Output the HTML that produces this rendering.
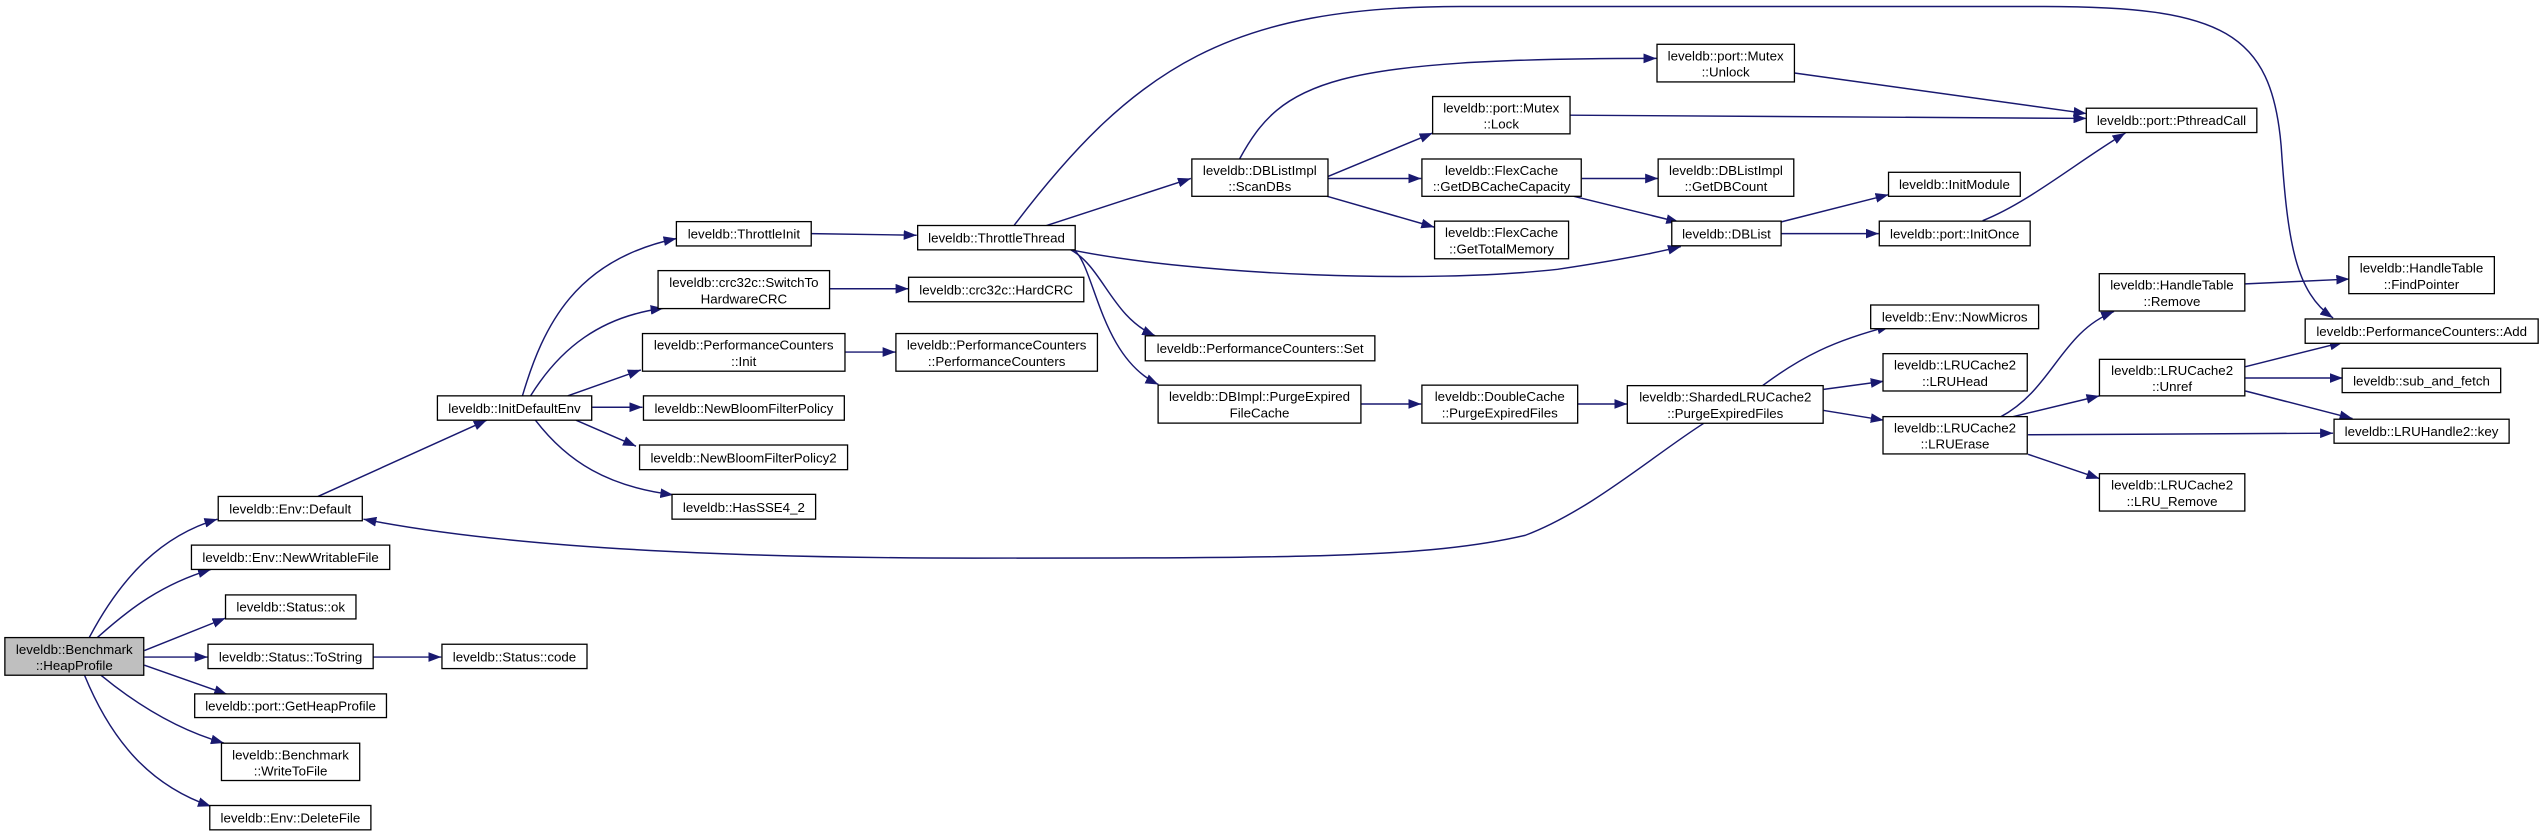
<!DOCTYPE html>
<html><head><meta charset="utf-8"><style>
html,body{margin:0;padding:0;background:#fff}
svg{display:block}
text{font-family:"Liberation Sans",sans-serif;font-size:8.2px;fill:#000}
</style></head><body>
<svg width="2544" height="836" viewBox="0 0 1568 515.3" preserveAspectRatio="none" xmlns="http://www.w3.org/2000/svg">
<defs><marker id="a" markerUnits="userSpaceOnUse" markerWidth="8" markerHeight="6" refX="8" refY="3" orient="auto"><path d="M0,0 L8,3 L0,6 z" fill="#191970"/></marker></defs>
<g fill="none" stroke="#191970" stroke-width="0.9" marker-end="url(#a)">
<path d="M55,393 C75,355 100,330 134,320"/>
<path d="M60,393 C80,375 100,360 130,351"/>
<path d="M89,401 L139,381"/>
<path d="M89,405 L128,405"/>
<path d="M89,410 L140,428"/>
<path d="M62,416 C85,435 110,450 138,458"/>
<path d="M52,416 C70,460 95,485 130,497"/>
<path d="M230,405 L272,405"/>
<path d="M196,306 L300,259"/>
<path d="M1050,261 C1020,280 980,315 940,330 C880,344 800,344 600,344 C420,344 300,335 224,320"/>
<path d="M322,244 C335,200 355,160 417,147"/>
<path d="M327,244 C345,215 370,195 409,190"/>
<path d="M350,244 L395,228"/>
<path d="M365,251 L396,251"/>
<path d="M355,259 L392,275"/>
<path d="M330,259 C350,285 375,300 415,305"/>
<path d="M500,144 L565,145"/>
<path d="M511,178 L560,178"/>
<path d="M521,217 L552,217"/>
<path d="M645,139 L734,110"/>
<path d="M660,154 C740,170 880,175 960,166 C1000,160 1020,156 1036,152"/>
<path d="M625,139 C700,40 760,4 900,4 L1260,4 C1370,4 1400,20 1406,90 C1410,150 1415,180 1438,196"/>
<path d="M660,154 C680,165 685,195 712,207"/>
<path d="M662,154 C675,165 678,220 714,237"/>
<path d="M764,98 C790,50 820,36 1021,36"/>
<path d="M818,109 L883,82"/>
<path d="M818,110 L876,110"/>
<path d="M818,121 L884,140"/>
<path d="M1106,45 L1286,70"/>
<path d="M968,71 L1286,73"/>
<path d="M975,110 L1022,110"/>
<path d="M970,121 L1035,137"/>
<path d="M1097,137 L1164,120"/>
<path d="M1098,144 L1158,144"/>
<path d="M1222,136 C1250,125 1280,100 1310,82"/>
<path d="M839,249 L876,249"/>
<path d="M972,249 L1003,249"/>
<path d="M1086,238 C1110,220 1130,210 1165,201"/>
<path d="M1124,240 L1161,235"/>
<path d="M1124,253 L1161,259"/>
<path d="M1233,257 C1265,240 1270,205 1303,192"/>
<path d="M1240,257 L1294,244"/>
<path d="M1250,268 L1438,267"/>
<path d="M1250,280 L1294,295"/>
<path d="M1384,175 L1448,172"/>
<path d="M1384,226 L1444,211"/>
<path d="M1384,233 L1444,233"/>
<path d="M1384,241 L1450,258"/>
</g>
<g fill="#fff" stroke="#000" stroke-width="0.8">
<rect x="3" y="393" width="85.6" height="23.2" fill="#bfbfbf"/>
<rect x="134.5" y="306" width="88.8" height="15"/>
<rect x="118" y="336" width="122.2" height="15"/>
<rect x="139" y="366.7" width="80.4" height="14.8"/>
<rect x="128.2" y="397.1" width="101.8" height="15"/>
<rect x="272.4" y="397.1" width="89.4" height="15"/>
<rect x="120" y="427.7" width="118.2" height="14.6"/>
<rect x="136.5" y="458.1" width="85.2" height="23"/>
<rect x="129.3" y="496.5" width="99.3" height="15"/>
<rect x="269.6" y="244" width="95.1" height="15"/>
<rect x="416.9" y="136.6" width="83.1" height="15"/>
<rect x="405.6" y="166.8" width="105.7" height="23.4"/>
<rect x="396" y="205.6" width="124.8" height="23.2"/>
<rect x="396.6" y="244" width="123.8" height="15"/>
<rect x="394.2" y="274.3" width="128.2" height="15.2"/>
<rect x="414.2" y="304.7" width="88.5" height="15.3"/>
<rect x="560" y="170.9" width="108" height="15.1"/>
<rect x="552.2" y="205.6" width="124.2" height="23.2"/>
<rect x="565.6" y="139" width="97.1" height="15"/>
<rect x="705.9" y="207" width="141.5" height="15.4"/>
<rect x="713.8" y="237.4" width="125" height="23.4"/>
<rect x="876.4" y="237.4" width="96" height="23.4"/>
<rect x="1003" y="237.7" width="120.7" height="23.2"/>
<rect x="734.6" y="98" width="83.9" height="23"/>
<rect x="883" y="59.5" width="84.7" height="23"/>
<rect x="1021.3" y="27.3" width="84.7" height="23.2"/>
<rect x="876.4" y="98" width="98.2" height="23"/>
<rect x="884.2" y="136.3" width="82.6" height="23.2"/>
<rect x="1022" y="98" width="83.6" height="23"/>
<rect x="1030.4" y="136.3" width="67.4" height="15.2"/>
<rect x="1164" y="106.2" width="81.2" height="14.8"/>
<rect x="1158.3" y="136.3" width="93" height="15.2"/>
<rect x="1285.9" y="66.7" width="105.1" height="15"/>
<rect x="1153" y="188" width="103.5" height="14.6"/>
<rect x="1160.6" y="218" width="88.9" height="23"/>
<rect x="1160.6" y="256.8" width="88.9" height="23"/>
<rect x="1293.9" y="168.7" width="89.7" height="23"/>
<rect x="1294" y="221.5" width="89.6" height="22.5"/>
<rect x="1294" y="292" width="89.6" height="23"/>
<rect x="1447.7" y="158.2" width="89.7" height="22.8"/>
<rect x="1420.8" y="196.6" width="143.6" height="15"/>
<rect x="1443.6" y="227" width="97.7" height="15"/>
<rect x="1438.6" y="258.4" width="107.9" height="14.8"/>
</g>
<g text-anchor="middle">
<text x="45.8" y="403">leveldb::Benchmark</text><text x="45.8" y="413">::HeapProfile</text>
<text x="178.9" y="316.5">leveldb::Env::Default</text>
<text x="179.1" y="346.5">leveldb::Env::NewWritableFile</text>
<text x="179.2" y="377">leveldb::Status::ok</text>
<text x="179.1" y="407.6">leveldb::Status::ToString</text>
<text x="317.1" y="407.6">leveldb::Status::code</text>
<text x="179.1" y="438">leveldb::port::GetHeapProfile</text>
<text x="179.1" y="468">leveldb::Benchmark</text><text x="179.1" y="478">::WriteToFile</text>
<text x="179" y="507">leveldb::Env::DeleteFile</text>
<text x="317.1" y="254.5">leveldb::InitDefaultEnv</text>
<text x="458.5" y="147">leveldb::ThrottleInit</text>
<text x="458.5" y="177">leveldb::crc32c::SwitchTo</text><text x="458.5" y="187">HardwareCRC</text>
<text x="458.4" y="215.5">leveldb::PerformanceCounters</text><text x="458.4" y="225.5">::Init</text>
<text x="458.5" y="254.5">leveldb::NewBloomFilterPolicy</text>
<text x="458.3" y="285">leveldb::NewBloomFilterPolicy2</text>
<text x="458.5" y="315.5">leveldb::HasSSE4_2</text>
<text x="614" y="181.5">leveldb::crc32c::HardCRC</text>
<text x="614.3" y="215.5">leveldb::PerformanceCounters</text><text x="614.3" y="225.5">::PerformanceCounters</text>
<text x="614.2" y="149.5">leveldb::ThrottleThread</text>
<text x="776.7" y="217.7">leveldb::PerformanceCounters::Set</text>
<text x="776.3" y="247.3">leveldb::DBImpl::PurgeExpired</text><text x="776.3" y="257.3">FileCache</text>
<text x="924.4" y="247.3">leveldb::DoubleCache</text><text x="924.4" y="257.3">::PurgeExpiredFiles</text>
<text x="1063.4" y="247.6">leveldb::ShardedLRUCache2</text><text x="1063.4" y="257.6">::PurgeExpiredFiles</text>
<text x="776.5" y="107.8">leveldb::DBListImpl</text><text x="776.5" y="117.8">::ScanDBs</text>
<text x="925.3" y="69.3">leveldb::port::Mutex</text><text x="925.3" y="79.3">::Lock</text>
<text x="1063.6" y="37.2">leveldb::port::Mutex</text><text x="1063.6" y="47.2">::Unlock</text>
<text x="925.5" y="107.8">leveldb::FlexCache</text><text x="925.5" y="117.8">::GetDBCacheCapacity</text>
<text x="925.5" y="146.2">leveldb::FlexCache</text><text x="925.5" y="156.2">::GetTotalMemory</text>
<text x="1063.8" y="107.8">leveldb::DBListImpl</text><text x="1063.8" y="117.8">::GetDBCount</text>
<text x="1064.1" y="147">leveldb::DBList</text>
<text x="1204.6" y="116.6">leveldb::InitModule</text>
<text x="1204.8" y="147">leveldb::port::InitOnce</text>
<text x="1338.4" y="77.2">leveldb::port::PthreadCall</text>
<text x="1204.8" y="198.3">leveldb::Env::NowMicros</text>
<text x="1205" y="227.8">leveldb::LRUCache2</text><text x="1205" y="237.8">::LRUHead</text>
<text x="1205" y="266.6">leveldb::LRUCache2</text><text x="1205" y="276.6">::LRUErase</text>
<text x="1338.7" y="178.5">leveldb::HandleTable</text><text x="1338.7" y="188.5">::Remove</text>
<text x="1338.8" y="231">leveldb::LRUCache2</text><text x="1338.8" y="241">::Unref</text>
<text x="1338.8" y="301.8">leveldb::LRUCache2</text><text x="1338.8" y="311.8">::LRU_Remove</text>
<text x="1492.5" y="168">leveldb::HandleTable</text><text x="1492.5" y="178">::FindPointer</text>
<text x="1492.6" y="207">leveldb::PerformanceCounters::Add</text>
<text x="1492.5" y="237.5">leveldb::sub_and_fetch</text>
<text x="1492.5" y="268.8">leveldb::LRUHandle2::key</text>
</g>
</svg>
</body></html>
